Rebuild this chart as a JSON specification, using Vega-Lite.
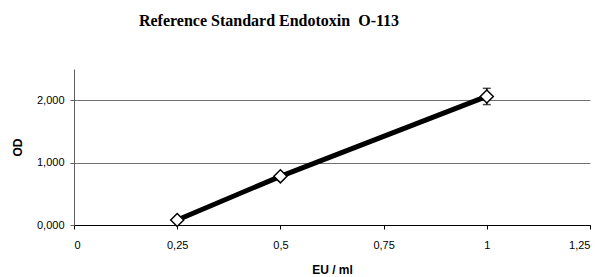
{
  "$schema": "https://vega.github.io/schema/vega-lite/v6.json",
  "width": 516,
  "height": 156,
  "autosize": "none",
  "padding": {"left": 74, "top": 69, "right": 13, "bottom": 52},
  "background": "white",
  "config": {
    "locale": {"number": {"decimal": ",", "thousands": ".", "grouping": [3], "currency": ["", " €"]}},
    "view": {"stroke": null},
    "axis": {"labelFont": "Liberation Sans", "labelFontSize": 11, "labelColor": "black", "titleFont": "Liberation Sans", "titleFontSize": 12, "titleFontWeight": "bold", "titleColor": "black", "tickSize": 4}
  },
  "title": {
    "text": "Reference Standard Endotoxin \u00a0O-113",
    "font": "Liberation Serif",
    "fontSize": 16,
    "fontWeight": "bold",
    "color": "black",
    "anchor": "middle",
    "dx": -63,
    "offset": 40
  },
  "data": {
    "values": [
      {"eu": 0.25, "od": 0.08, "lo": 0.08, "hi": 0.08},
      {"eu": 0.5, "od": 0.78, "lo": 0.78, "hi": 0.78},
      {"eu": 1.0, "od": 2.06, "lo": 1.93, "hi": 2.19}
    ]
  },
  "layer": [
    {
      "mark": {"type": "line", "color": "black", "strokeWidth": 5},
      "encoding": {
        "x": {
          "field": "eu", "type": "quantitative",
          "scale": {"domain": [0, 1.25], "nice": false, "zero": false},
          "axis": {
            "values": [0, 0.25, 0.5, 0.75, 1, 1.25],
            "format": ".2~f",
            "grid": false,
            "domainColor": "black",
            "tickColor": "black",
            "labelPadding": 10,
            "title": "EU / ml",
            "titlePadding": 14
          }
        },
        "y": {
          "field": "od", "type": "quantitative",
          "scale": {"domain": [0, 2.5], "nice": false},
          "axis": {
            "values": [0, 1, 2],
            "format": ".3f",
            "grid": true,
            "gridColor": "#707070",
            "gridOpacity": 1,
            "domainColor": "#606060",
            "tickColor": "#606060",
            "labelPadding": 6,
            "title": "OD",
            "titlePadding": 12
          }
        }
      }
    },
    {
      "mark": {"type": "rule", "color": "black", "strokeWidth": 1.5},
      "encoding": {
        "x": {"field": "eu", "type": "quantitative"},
        "y": {"field": "lo", "type": "quantitative"},
        "y2": {"field": "hi"}
      }
    },
    {
      "mark": {"type": "tick", "color": "black", "orient": "horizontal", "size": 8, "thickness": 1.5},
      "encoding": {
        "x": {"field": "eu", "type": "quantitative"},
        "y": {"field": "lo", "type": "quantitative"}
      }
    },
    {
      "mark": {"type": "tick", "color": "black", "orient": "horizontal", "size": 8, "thickness": 1.5},
      "encoding": {
        "x": {"field": "eu", "type": "quantitative"},
        "y": {"field": "hi", "type": "quantitative"}
      }
    },
    {
      "mark": {"type": "point", "shape": "diamond", "filled": true, "fill": "white", "stroke": "black", "strokeWidth": 1.5, "size": 170, "opacity": 1},
      "encoding": {
        "x": {"field": "eu", "type": "quantitative"},
        "y": {"field": "od", "type": "quantitative"}
      }
    }
  ]
}
